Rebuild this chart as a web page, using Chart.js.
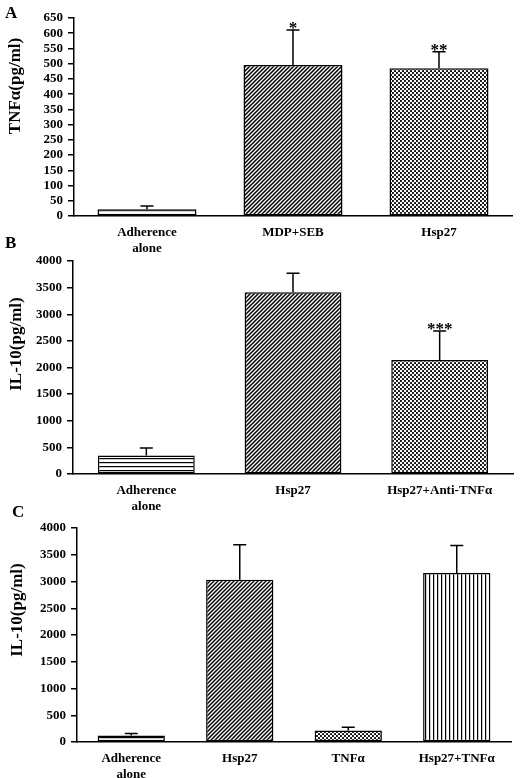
<!DOCTYPE html>
<html><head><meta charset="utf-8">
<script src="https://cdn.jsdelivr.net/npm/chart.js@4.4.1/dist/chart.umd.min.js"></script>
<style>
html,body{margin:0;padding:0;background:#fff;}
body{width:520px;height:778px;position:relative;overflow:hidden;font-family:'Liberation Serif','Times New Roman',serif;color:#000;}
canvas{position:absolute;left:0;}
.lbl{position:absolute;font-weight:bold;font-size:17px;line-height:1;}
.yt{position:absolute;font-weight:bold;font-size:17px;white-space:nowrap;line-height:1;transform:translate(-50%,-50%) rotate(-90deg);}
</style></head><body>
<canvas id="cA" width="520" height="258" style="top:0;width:520px;height:258px"></canvas>
<canvas id="cB" width="520" height="270" style="top:248px;width:520px;height:270px"></canvas>
<canvas id="cC" width="520" height="263" style="top:515px;width:520px;height:263px"></canvas>
<div class="lbl" style="left:5px;top:4px">A</div>
<div class="lbl" style="left:5px;top:234px">B</div>
<div class="lbl" style="left:12px;top:503px">C</div>
<div class="yt" style="left:14px;top:86px">TNFα(pg/ml)</div>
<div class="yt" style="left:15px;top:344px">IL-10(pg/ml)</div>
<div class="yt" style="left:16px;top:610px">IL-10(pg/ml)</div>
<script>
// ---- data ----
const catsA = [['Adherence','alone'], 'MDP+SEB', 'Hsp27'];
const tnfA = [22, 496, 485];
const tnfErrA = [11, 115, 54];
const sigA = ['', '*', '**'];
const yMaxA = 650, yStepA = 50;

const catsB = [['Adherence','alone'], 'Hsp27', 'Hsp27+Anti-TNFα'];
const il10B = [349, 3412, 2143];
const il10ErrB = [138, 357, 544];
const sigB = ['', '', '***'];
const yMaxB = 4000, yStepB = 500;

const catsC = [['Adherence','alone'], 'Hsp27', 'TNFα', 'Hsp27+TNFα'];
const il10C = [120, 3031, 213, 3157];
const il10ErrC = [37, 656, 62, 518];
const sigC = ['', '', '', ''];
const yMaxC = 4000, yStepC = 500;

// ---- patterns ----
function pat(type){
  const c = document.createElement('canvas');
  const g = c.getContext('2d');
  if(type==='h'){ c.width=4;c.height=4; g.fillStyle='#fff';g.fillRect(0,0,4,4); g.fillStyle='#000'; g.fillRect(0,2,4,1.2); }
  else if(type==='v'){ c.width=4;c.height=4; g.fillStyle='#fff';g.fillRect(0,0,4,4); g.fillStyle='#000'; g.fillRect(1,0,1.2,4); }
  else if(type==='d'){ c.width=4;c.height=4; g.fillStyle='#fff';g.fillRect(0,0,4,4); g.strokeStyle='#000'; g.lineWidth=1.5;
    g.beginPath(); g.moveTo(-1,5); g.lineTo(5,-1); g.moveTo(-1,1); g.lineTo(1,-1); g.moveTo(3,5); g.lineTo(5,3); g.stroke(); }
  else if(type==='p'){ c.width=4;c.height=4; g.fillStyle='#fff';g.fillRect(0,0,4,4); g.fillStyle='#000';
    [[1,1],[3,3],[-1,3],[3,-1],[5,3],[3,5],[1,5],[5,1],[-1,-1],[5,5]].forEach(([x,y])=>{g.beginPath();g.arc(x,y,1.05,0,Math.PI*2);g.fill();}); }
  return g.createPattern(c,'repeat');
}
const H=pat('h'), V=pat('v'), D=pat('d'), P=pat('p');

const FONT = "'Liberation Serif','Times New Roman',serif";

const errPlugin = {
  id:'err',
  afterDatasetsDraw(chart, args, opts){
    const ctx = chart.ctx, x = chart.scales.x, y = chart.scales.y;
    ctx.save();
    ctx.strokeStyle='#000'; ctx.fillStyle='#000'; ctx.lineWidth=1.5;
    opts.values.forEach((v,i)=>{
      const px = x.getPixelForValue(i);
      const y0 = y.getPixelForValue(v), y1 = y.getPixelForValue(v + opts.errors[i]);
      ctx.beginPath(); ctx.moveTo(px,y0); ctx.lineTo(px,y1);
      ctx.moveTo(px-6.5,y1); ctx.lineTo(px+6.5,y1); ctx.stroke();
      if(opts.marks[i]){
        ctx.font = "bold 17px " + FONT; ctx.textAlign='center'; ctx.textBaseline='alphabetic';
        ctx.fillText(opts.marks[i], px, y1+3);
      }
    });
    ctx.restore();
  }
};

function makeChart(id, cats, vals, errs, marks, fills, ymax, ystep, geo){
  return new Chart(document.getElementById(id), {
    type:'bar',
    data:{ labels:cats, datasets:[{ data:vals, backgroundColor:fills, borderColor:'#000', borderWidth:1.5, borderSkipped:false,
      barPercentage:geo.bp, categoryPercentage:1 }]},
    options:{
      responsive:false, animation:false,
      layout:{ padding:{ left:0, right:geo.r, top:geo.t, bottom:0 } },
      plugins:{ legend:{display:false}, tooltip:{enabled:false}, err:{ values:vals, errors:errs, marks:marks } },
      scales:{
        x:{ grid:{display:false, drawTicks:false}, border:{display:true, color:'#000', width:1.5},
            ticks:{ color:'#000', font:{family:FONT, weight:'bold', size:13, lineHeight:1.2}, padding:9, maxRotation:0, autoSkip:false },
            afterFit(s){ s.height = geo.xh; } },
        y:{ min:0, max:ymax,
            grid:{display:true, drawOnChartArea:false, drawTicks:true, tickLength:6, color:'#000', lineWidth:1.5},
            border:{display:true, color:'#000', width:1.5},
            ticks:{ stepSize:ystep, autoSkip:false, color:'#000', font:{family:FONT, weight:'bold', size:13, lineHeight:1},
                    padding:5, callback:(v)=>String(v) },
            afterFit(s){ s.width = geo.yw; } }
      }
    },
    plugins:[errPlugin]
  });
}

makeChart('cA', catsA, tnfA, tnfErrA, sigA, [H, D, P], yMaxA, yStepA, {bp:0.678, r:8, t:18, xh:42, yw:74});
makeChart('cB', catsB, il10B, il10ErrB, sigB, [H, D, P], yMaxB, yStepB, {bp:0.66, r:7, t:13, xh:44, yw:73});
makeChart('cC', catsC, il10C, il10ErrC, sigC, [H, D, P, V], yMaxC, yStepC, {bp:0.62, r:9, t:13, xh:36, yw:77});
</script>
</body></html>
